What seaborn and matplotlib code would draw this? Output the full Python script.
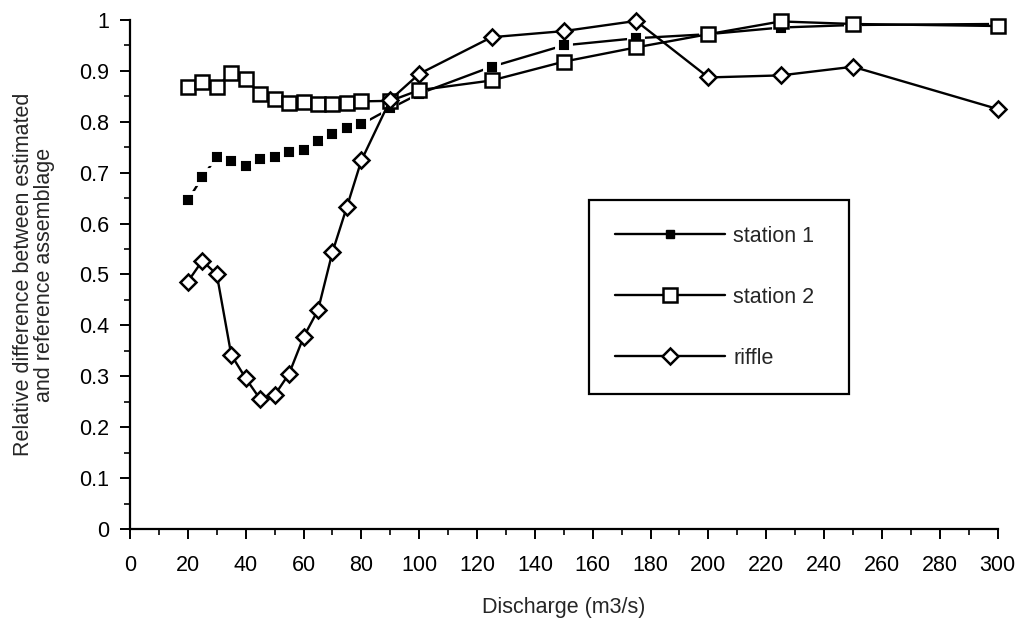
import numpy as np
import pandas as pd
import matplotlib
matplotlib.use("Agg")
import matplotlib.pyplot as plt
from matplotlib.ticker import MultipleLocator, FuncFormatter
from matplotlib.lines import Line2D
import seaborn as sns

# ---- data ----
discharge = [20, 25, 30, 35, 40, 45, 50, 55, 60, 65, 70, 75, 80, 90,
             100, 125, 150, 175, 200, 225, 250, 300]
station1 = [0.646, 0.691, 0.731, 0.722, 0.714, 0.726, 0.731, 0.740, 0.745, 0.763,
            0.776, 0.787, 0.795, 0.826, 0.855, 0.908, 0.950, 0.964, 0.972, 0.985,
            0.990, 0.992]
station2 = [0.869, 0.879, 0.868, 0.896, 0.883, 0.855, 0.845, 0.836, 0.839, 0.835,
            0.835, 0.836, 0.840, 0.841, 0.862, 0.881, 0.918, 0.946, 0.972, 0.997,
            0.992, 0.988]
riffle = [0.486, 0.527, 0.500, 0.342, 0.296, 0.255, 0.263, 0.305, 0.377, 0.430,
          0.544, 0.633, 0.724, 0.843, 0.894, 0.966, 0.978, 0.998, 0.887, 0.891,
          0.908, 0.825]
series_names = ["station 1", "station 2", "riffle"]
x_label = "Discharge (m3/s)"
y_label = "Relative difference between estimated\nand reference assemblage"

sns.set_style("ticks")
plt.rcParams["font.family"] = ["Liberation Sans", "DejaVu Sans"]
FS = 15.5

fig = plt.figure(figsize=(10.2, 6.22), dpi=100)
ax = fig.add_axes([0.1275, 0.1495, 0.8505, 0.8185])

df = pd.DataFrame({"x": discharge, "s1": station1, "s2": station2, "r": riffle})

lw = 1.7
sns.lineplot(data=df, x="x", y="s1", ax=ax, color="black", linewidth=lw,
             marker="s", markersize=9.5, markerfacecolor="black",
             markeredgecolor="white", markeredgewidth=2.8, clip_on=False, zorder=3)
sns.lineplot(data=df, x="x", y="s2", ax=ax, color="black", linewidth=lw,
             marker="s", markersize=10, markerfacecolor="white",
             markeredgecolor="black", markeredgewidth=1.8, clip_on=False, zorder=4)
sns.lineplot(data=df, x="x", y="r", ax=ax, color="black", linewidth=lw,
             marker="D", markersize=8, markerfacecolor="white",
             markeredgecolor="black", markeredgewidth=1.8, clip_on=False, zorder=5)

ax.set_xlim(0, 300)
ax.set_ylim(0, 1)
ax.xaxis.set_major_locator(MultipleLocator(20))
ax.xaxis.set_minor_locator(MultipleLocator(10))
ax.yaxis.set_major_locator(MultipleLocator(0.1))
ax.yaxis.set_minor_locator(MultipleLocator(0.05))
ax.yaxis.set_major_formatter(FuncFormatter(
    lambda v, p: f"{int(round(v))}" if abs(v - round(v)) < 1e-9 else f"{v:.1f}"))
ax.xaxis.set_major_formatter(FuncFormatter(lambda v, p: f"{int(round(v))}"))

for side in ["top", "right"]:
    ax.spines[side].set_visible(False)
for side in ["left", "bottom"]:
    ax.spines[side].set_linewidth(1.6)
    ax.spines[side].set_color("black")

ax.tick_params(axis="both", which="major", direction="out", length=7, width=1.4,
               labelsize=FS, colors="black")
ax.tick_params(axis="both", which="minor", direction="out", length=4.5, width=1.4)
ax.tick_params(axis="x", which="major", pad=12)
ax.tick_params(axis="y", which="major", pad=8)

ax.set_xlabel(x_label, fontsize=FS, labelpad=15)
ax.set_ylabel(y_label, fontsize=FS, linespacing=1.0)
ax.yaxis.set_label_coords(-0.087, 0.5)

handles = [
    Line2D([], [], color="black", linewidth=lw, marker="s", markersize=6,
           markerfacecolor="black", markeredgecolor="black"),
    Line2D([], [], color="black", linewidth=lw, marker="s", markersize=10,
           markerfacecolor="white", markeredgecolor="black", markeredgewidth=1.8),
    Line2D([], [], color="black", linewidth=lw, marker="D", markersize=8,
           markerfacecolor="white", markeredgecolor="black", markeredgewidth=1.8),
]
leg = ax.legend(handles, series_names, loc="upper left",
                bbox_to_anchor=(158.7, 0.261, 90.0, 0.385),
                bbox_transform=ax.transData, mode="expand",
                fontsize=FS, handlelength=5.1, handletextpad=0.4,
                labelspacing=1.85, borderpad=1.2, borderaxespad=0,
                frameon=True, fancybox=False, edgecolor="black",
                facecolor="white", framealpha=1)
leg.get_frame().set_linewidth(1.6)

fig.savefig("out.png", dpi=100, facecolor="white")
